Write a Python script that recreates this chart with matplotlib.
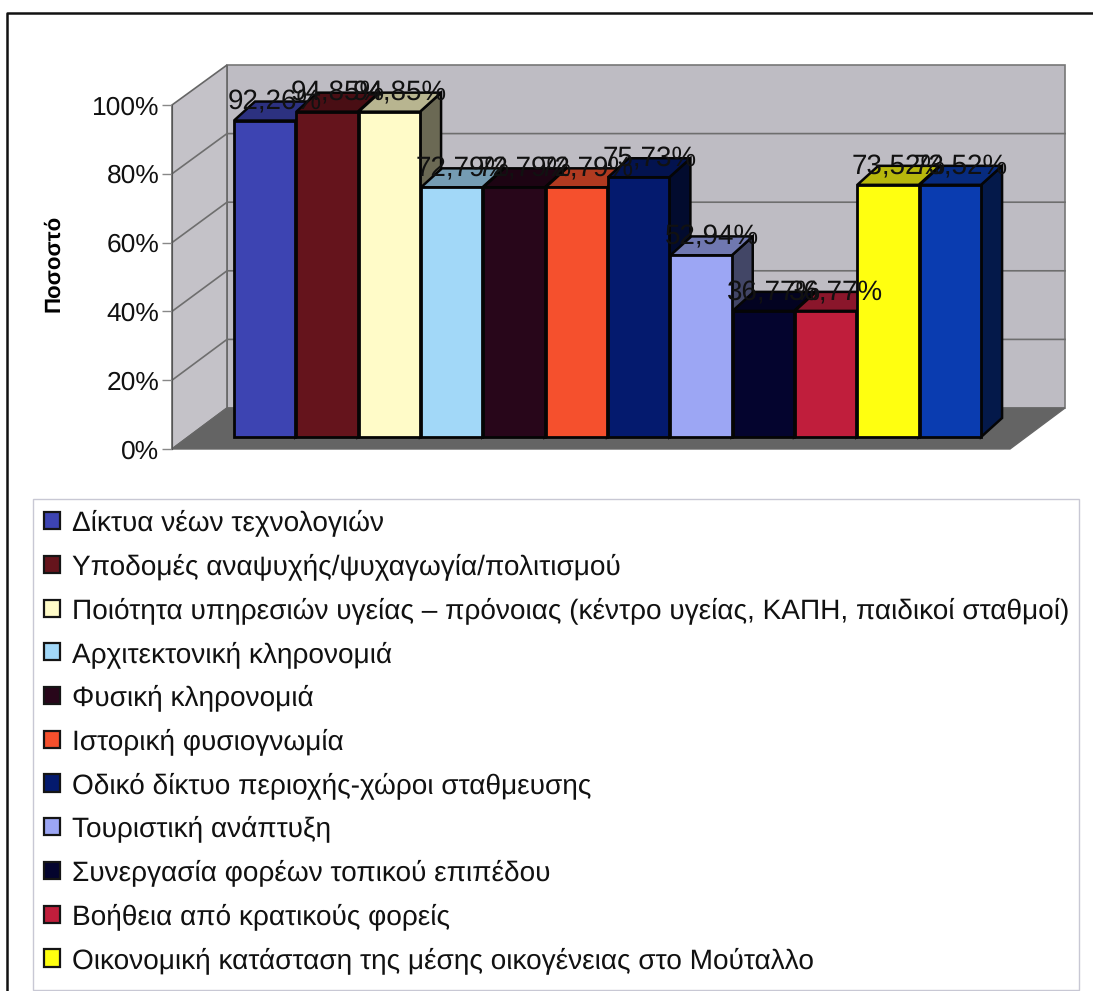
import matplotlib
matplotlib.use("Agg")
import matplotlib.pyplot as plt
from matplotlib.patches import Polygon, Rectangle, Patch
from matplotlib.ticker import FuncFormatter

plt.rcParams['font.family'] = ['Liberation Sans', 'DejaVu Sans']
plt.rcParams['text.hinting'] = 'no_hinting'

labels = [
    "Δίκτυα νέων τεχνολογιών",
    "Υποδομές αναψυχής/ψυχαγωγία/πολιτισμού",
    "Ποιότητα υπηρεσιών υγείας – πρόνοιας (κέντρο υγείας, ΚΑΠΗ, παιδικοί σταθμοί)",
    "Αρχιτεκτονική κληρονομιά",
    "Φυσική κληρονομιά",
    "Ιστορική φυσιογνωμία",
    "Οδικό δίκτυο περιοχής-χώροι σταθμευσης",
    "Τουριστική ανάπτυξη",
    "Συνεργασία φορέων τοπικού επιπέδου",
    "Βοήθεια από κρατικούς φορείς",
    "Οικονομική κατάσταση της μέσης οικογένειας στο Μούταλλο",
]
values = [92.26, 94.85, 94.85, 72.79, 72.79, 72.79, 75.73, 52.94, 36.77, 36.77, 73.52, 73.52]
value_labels = ["92,26%", "94,85%", "94,85%", "72,79%", "72,79%", "72,79%",
                "75,73%", "52,94%", "36,77%", "36,77%", "73,52%", "73,52%"]
colors = ["#3D44B2", "#65141C", "#FFFBC8", "#A2D8F8", "#28061A", "#F5502D",
          "#041A6E", "#9CA6F4", "#04042E", "#C01E3C", "#FFFF10", "#0A3CB0"]
y_ticks = [0, 20, 40, 60, 80, 100]

W, H = 1093, 991


def axes_px(left, right, top, bottom):
    return [left / W, 1 - bottom / H, (right - left) / W, (bottom - top) / H]


def shade(col, f):
    r, g, b = matplotlib.colors.to_rgb(col)
    return (r * f, g * f, b * f)


fig = plt.figure(figsize=(W / 100, H / 100), dpi=100)

# background layer in pixels: frame, walls, floor
bg = fig.add_axes([0, 0, 1, 1])
bg.set_xlim(0, W)
bg.set_ylim(H, 0)
bg.axis("off")

bg.plot([7, 7, 1093], [991, 13, 13], color="#111111", lw=1.8)
bg.add_patch(Rectangle((33, 499), 1046, 491, fc="white", ec="#C8C8D4", lw=1))

wall = "#BEBCC3"
bg.add_patch(Polygon([(227, 65), (1065, 65), (1065, 408), (227, 408)], fc=wall, ec="#777777", lw=1.2))
bg.add_patch(Polygon([(172, 105), (227, 65), (227, 408), (172, 449)], fc="#C4C2C8", ec="#666666", lw=1.2))
bg.add_patch(Polygon([(172, 449), (227, 408), (1065, 408), (1010, 449)], fc="#646464", ec="#666666", lw=1))
for t in y_ticks[1:-1]:
    yb = 408 - 3.43 * t
    yf = 449 - 3.44 * t
    bg.plot([172, 227, 1065], [yf, yb, yb], color="#6E6E6E", lw=1.2)

# front axis with the percent ticks
tick_ax = fig.add_axes(axes_px(172, 173, 105, 449))
tick_ax.patch.set_visible(False)
tick_ax.set_ylim(0, 100)
tick_ax.set_xticks([])
tick_ax.set_yticks(y_ticks)
tick_ax.yaxis.set_major_formatter(FuncFormatter(lambda v, p: "%d%%" % v))
tick_ax.tick_params(axis="y", length=7, width=1, color="#888888", labelsize=19, pad=2, labelcolor="#111111")
for s in ["top", "right", "bottom"]:
    tick_ax.spines[s].set_visible(False)
tick_ax.spines["left"].set_color("#555555")
tick_ax.set_ylabel("Ποσοστό", fontsize=16, fontweight="bold", labelpad=20, y=0.54)

# bars, oblique faces come out of the same values
ax = fig.add_axes(axes_px(234, 982, 94, 437))
ax.patch.set_visible(False)
ax.set_xlim(0, 12)
ax.set_ylim(0, 100)
ax.axis("off")

dx = 21 / (748 / 12)
dy = 19 / 3.43
bar_w = 0.985
for i, (v, c) in enumerate(zip(values, colors)):
    ax.add_patch(Polygon([(i + bar_w, 0), (i + bar_w + dx, dy), (i + bar_w + dx, v + dy), (i + bar_w, v)],
                         fc=shade(c, 0.42), ec="#050505", lw=1.8, clip_on=False, zorder=2 + i))
    ax.add_patch(Polygon([(i, v), (i + dx, v + dy), (i + bar_w + dx, v + dy), (i + bar_w, v)],
                         fc=shade(c, 0.72), ec="#050505", lw=1.8, clip_on=False, zorder=2 + i))
    ax.bar(i, v, width=bar_w, align="edge", color=c, edgecolor="#050505", lw=2, clip_on=False, zorder=2 + i)

for i, (v, s) in enumerate(zip(values, value_labels)):
    ax.annotate(s, (i + 0.5, v), xytext=(10, 18), textcoords="offset pixels", ha="center", va="center",
                fontsize=20, color="#111111", zorder=30, annotation_clip=False)

# legend
handles = [Patch(fc=c, ec="#151515", lw=1.6) for c in colors[:len(labels)]]
fig.legend(handles, labels, loc="upper left", bbox_to_anchor=(36 / W, 1 - 501 / H), frameon=False,
           fontsize=20.2, handlelength=0.56, handleheight=0.56, handletextpad=0.42,
           labelspacing=0.6, borderpad=0.3, borderaxespad=0, labelcolor="#111111")

fig.savefig("out.png", dpi=100)
